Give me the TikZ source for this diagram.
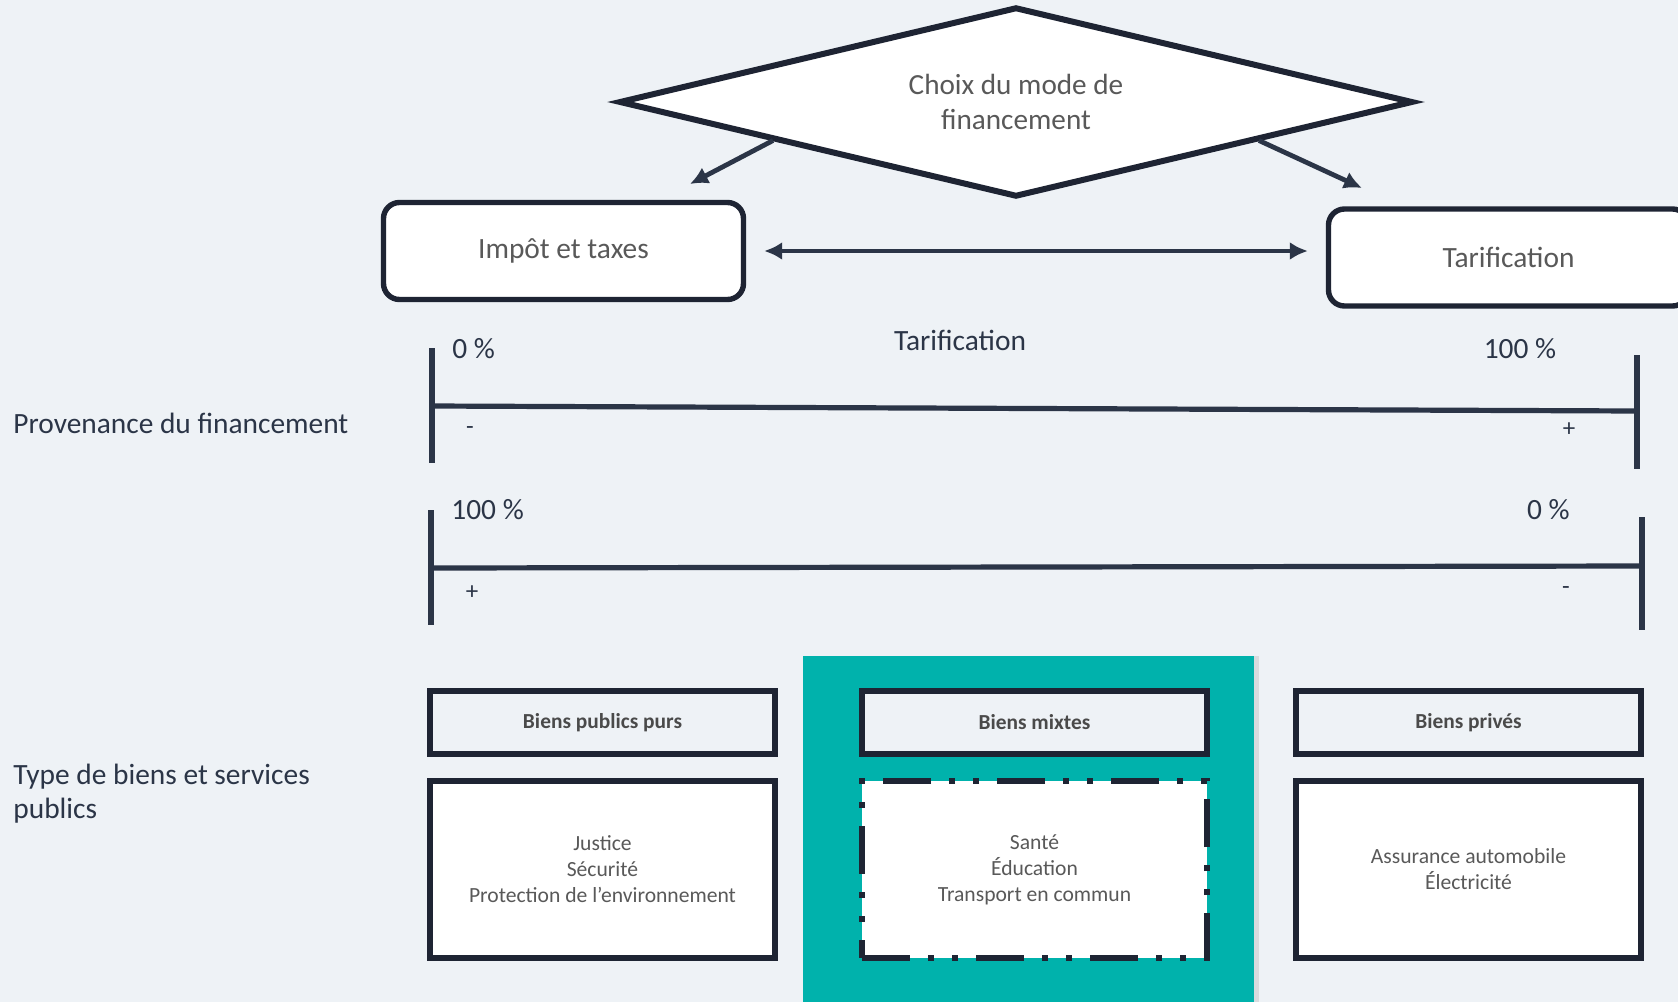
\documentclass[tikz,border=0pt]{standalone}
\usepackage{fontspec}
\setmainfont{Carlito}
\usetikzlibrary{shapes.geometric,arrows.meta,positioning,shadows}

\definecolor{bgcol}{HTML}{EEF2F6}
\definecolor{ink}{HTML}{1E2433}
\definecolor{navy}{HTML}{2B3547}
\definecolor{greytxt}{HTML}{595959}
\definecolor{headtxt}{HTML}{4A4A4A}
\definecolor{panel}{HTML}{00B2AC}

\begin{document}
\begin{tikzpicture}[x=0.5pt,y=-0.5pt,
    choice/.style={diamond,aspect=4.3,draw=ink,fill=white,line width=3pt,minimum width=397pt,
        minimum height=95pt,inner sep=0pt,align=center,text=greytxt,
        font=\fontsize{14.6}{17.5}\selectfont},
    mode/.style={rectangle,rounded corners=8pt,draw=ink,fill=white,line width=2.7pt,
        minimum width=180pt,minimum height=48.5pt,text=greytxt,
        font=\fontsize{14.7}{17}\selectfont},
    header/.style={rectangle,draw=ink,fill=bgcol,line width=3pt,minimum width=172.5pt,
        minimum height=31.5pt,text=headtxt,font=\fontsize{10.7}{12}\selectfont\bfseries},
    goods/.style={rectangle,draw=ink,fill=white,line width=3pt,minimum width=172.5pt,
        minimum height=88.5pt,align=center,text=greytxt,font=\fontsize{10.8}{13}\selectfont},
    scaletxt/.style={text=navy,font=\fontsize{14.7}{17}\selectfont,inner sep=0pt},
    signtxt/.style={text=navy,font=\fontsize{12.5}{14}\selectfont,inner sep=0pt},
    axis/.style={draw=navy,line width=2.6pt},
    link/.style={draw=navy,line width=2.4pt,-{Latex[length=9pt,width=9pt]}}
]
    \useasboundingbox (0,0) rectangle (1678,1002);
    \fill[bgcol] (0,0) rectangle (1678,1002);

    % choix du financement
    \node[choice] (dia) at (1016,102) {Choix du mode de\\financement};
    \node[mode] (imp) at (563.5,251) {Impôt et taxes};
    \node[mode] (tar) at (1508.5,257.5) {Tarification};
    \coordinate (impin) at (690,184);
    \coordinate (tarin) at (1362,188);
    \draw[link] (dia.189) -- (impin);
    \draw[link] (dia.-9) -- (tarin);
    \draw[link,{Latex[length=9pt,width=9pt]}-{Latex[length=9pt,width=9pt]},
        shorten <=9pt,shorten >=9pt] (imp.east) -- (imp.east -| tar.west);

    % echelles
    \node[scaletxt] (tarlab) at (960,340) {Tarification};
    \node[scaletxt,anchor=west,text=navy] (prov) at (13,423) {Provenance du financement};
    \draw[axis] (432,348) -- (432,463);
    \draw[axis] (1637,355) -- (1637,469);
    \draw[axis] (432,406) -- (1637,411);
    \node[scaletxt,anchor=west] (pa) at (452,349) {0 \%};
    \node[scaletxt] (pb) at (1520,349) {100 \%};
    \node[signtxt] (sa) at (470,431) {-};
    \node[signtxt] (sb) at (1569,430) {+};

    \draw[axis] (431,510) -- (431,625);
    \draw[axis] (1642,517) -- (1642,630);
    \draw[axis] (431,568) -- (1642,566);
    \node[scaletxt,anchor=west] (pc) at (451,510) {100 \%};
    \node[scaletxt,anchor=east] (pd) at (1570,510) {0 \%};
    \node[signtxt] (sc) at (472,593) {+};
    \node[signtxt] (sd) at (1566,591) {-};

    % types de biens
    \node[scaletxt,anchor=west,align=left] (type) at (13,794)
        {Type de biens et services\\publics};
    \fill[panel,drop shadow={shadow xshift=2.5pt,shadow yshift=0pt,opacity=0.2}]
        (803,656) rectangle (1254,1012);

    \node[header] (hpub) at (602.5,722.5) {Biens publics purs};
    \node[header] (hmix) at (1034.5,722.5) {Biens mixtes};
    \node[header] (hpriv) at (1468.5,722.5) {Biens privés};
    \node[goods,below=10.5pt of hpub] (gpub)
        {Justice\\Sécurité\\Protection de l’environnement};
    \node[goods,below=10.5pt of hmix,
        dash pattern=on 24pt off 9pt on 3pt off 9pt on 3pt off 9pt] (gmix)
        {Santé\\Éducation\\Transport en commun};
    \node[goods,below=10.5pt of hpriv] (gpriv)
        {Assurance automobile\\Électricité};
\end{tikzpicture}
\end{document}
